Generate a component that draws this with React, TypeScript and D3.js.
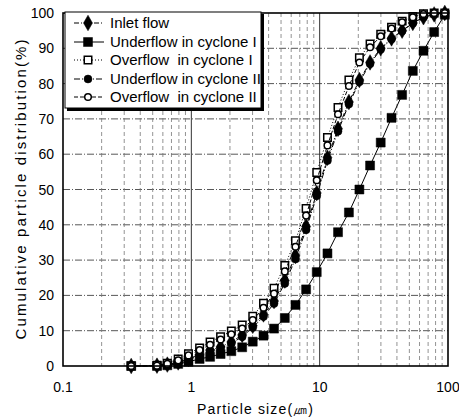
import * as d3 from 'd3'

// particle sizes (µm) shared by every series
const sizes = [0.34, 0.54, 0.65, 0.79, 0.95, 1.16, 1.40, 1.69, 2.05, 2.49, 3.01, 3.65, 4.41, 5.35, 6.48,
  7.84, 9.49, 11.5, 13.9, 16.9, 20.4, 24.7, 29.9, 36.3, 43.9, 53.2, 64.4, 78.0, 94.4]

const inletFlow = [0, 0.1, 0.4, 1.0, 2.0, 3.3, 4.5, 5.4, 6.8, 8.8, 11.4, 14.6, 18.4, 24.2, 31.2, 39.5,
  49.0, 59.0, 67.2, 74.8, 81.0, 86.0, 90.0, 92.8, 95.0, 97.2, 98.8, 99.6, 100]
const underflow1 = [0, 0, 0.2, 0.6, 1.2, 2.0, 2.6, 3.4, 4.2, 5.3, 6.9, 8.6, 10.6, 13.6, 17.3, 21.7,
  26.6, 31.9, 37.9, 43.5, 50.0, 56.8, 63.3, 70.3, 76.8, 83.6, 89.3, 94.6, 99.5]
const overflow1 = [0, 0.2, 0.8, 2.0, 3.5, 5.1, 6.8, 8.3, 9.9, 11.6, 14.1, 17.8, 22.0, 28.5, 35.5, 44.6,
  54.8, 64.7, 73.2, 81.0, 87.3, 91.2, 94.0, 96.0, 97.7, 99.0, 99.8, 100, 100]
const underflow2 = [0, 0, 0.3, 0.9, 1.8, 3.0, 4.2, 5.1, 6.4, 8.3, 10.9, 14.0, 17.7, 23.4, 30.3, 38.6,
  48.2, 58.2, 66.5, 74.2, 80.5, 85.6, 89.7, 92.6, 94.9, 97.1, 98.8, 99.6, 100]
const overflow2 = [0, 0.1, 0.6, 1.6, 3.0, 4.5, 6.0, 7.5, 9.0, 10.6, 13.0, 16.5, 20.5, 26.8, 33.8, 42.6,
  52.6, 62.5, 71.3, 79.3, 86.0, 90.3, 93.4, 95.6, 97.4, 98.8, 99.7, 100, 100]

const seriesNames = ['Inlet flow', 'Underflow in cyclone I', 'Overflow  in cyclone I',
  'Underflow in cyclone II', 'Overflow  in cyclone II']

const xTicks = [0.1, 1, 10, 100]
const yTicks = [0, 10, 20, 30, 40, 50, 60, 70, 80, 90, 100]

const W = 459
const H = 420
const left = 63, right = 448, top = 13, bottom = 366

export default function App() {
  const x = d3.scaleLog().domain([0.1, 100]).range([left, right])
  const y = d3.scaleLinear().domain([0, 100]).range([bottom, top])

  const styles = [
    { values: inletFlow, shape: d3.symbolDiamond, size: 70, fill: '#000', dash: '5,2,1,2' },
    { values: underflow1, shape: d3.symbolSquare, size: 81, fill: '#000', dash: '' },
    { values: overflow1, shape: d3.symbolSquare, size: 56, fill: '#fff', dash: '1,2' },
    { values: underflow2, shape: d3.symbolCircle, size: 50, fill: '#000', dash: '6,2,1,2' },
    { values: overflow2, shape: d3.symbolCircle, size: 34, fill: '#fff', dash: '4,2' },
  ]
  // underflow II sits under the inlet diamonds, so draw it first
  const drawOrder = [3, 0, 1, 2, 4]
  const line = d3.line<number>().x((_, i) => x(sizes[i])).y(d => y(d))

  const minor: number[] = []
  for (const dec of [0.1, 1, 10]) for (let m = 2; m <= 9; m++) minor.push(dec * m)

  const font = 'Arial, "Liberation Sans", sans-serif'
  const legendY = [23, 42, 60, 79, 97]

  return (
    <svg width={W} height={H} style={{ position: 'absolute', left: 0, top: 0, background: '#fff' }}
      fontFamily={font}>
      <defs>
        <clipPath id="legendClip">
          <rect x={65} y={12} width={196} height={96} />
        </clipPath>
      </defs>
      {/* grid */}
      {yTicks.slice(1, -1).map(t => (
        <line key={'h' + t} x1={left} x2={right} y1={y(t)} y2={y(t)} stroke="#444"
          strokeWidth={0.9} strokeDasharray="7,2,1,2" />
      ))}
      {minor.map(t => (
        <line key={'v' + t} x1={x(t)} x2={x(t)} y1={top} y2={bottom} stroke="#777"
          strokeWidth={0.8} strokeDasharray="4,3" />
      ))}
      {[1, 10].map(t => (
        <line key={'m' + t} x1={x(t)} x2={x(t)} y1={top} y2={bottom} stroke="#333" strokeWidth={1} />
      ))}

      {/* series */}
      {drawOrder.map(si => {
        const s = styles[si]
        return (
          <g key={si}>
            <path d={line(s.values) ?? ''} fill="none" stroke="#000" strokeWidth={1}
              strokeDasharray={s.dash || undefined} />
            {s.values.map((v, i) => (
              <path key={i} transform={`translate(${x(sizes[i])},${y(v)})`}
                d={d3.symbol(s.shape, s.size)() ?? ''} fill={s.fill} stroke="#000"
                strokeWidth={s.fill === '#fff' ? 1.5 : 0.5} />
            ))}
          </g>
        )
      })}

      {/* frame */}
      <rect x={left} y={top} width={right - left} height={bottom - top} fill="none" stroke="#000" strokeWidth={1.6} />

      {/* legend */}
      <rect x={67} y={14} width={197} height={97} fill="#000" />
      <rect x={65} y={12} width={196} height={96} fill="#fff" stroke="#000" strokeWidth={1} />
      <g clipPath="url(#legendClip)">
        {styles.map((s, i) => (
          <g key={'lg' + i}>
            <line x1={74} x2={104} y1={legendY[i]} y2={legendY[i]} stroke="#000" strokeWidth={1}
              strokeDasharray={s.dash || undefined} />
            <path transform={`translate(88,${legendY[i]})`} d={d3.symbol(s.shape, s.size)() ?? ''}
              fill={s.fill} stroke="#000" strokeWidth={s.fill === '#fff' ? 1.5 : 0.5} />
            <text x={110} y={legendY[i] + 5} fontSize={15} style={{ whiteSpace: 'pre' }}>{seriesNames[i]}</text>
          </g>
        ))}
      </g>

      {/* y axis ticks */}
      {yTicks.map(t => (
        <text key={'yl' + t} x={54} y={y(t) + 5} fontSize={14} textAnchor="end">{t}</text>
      ))}
      {/* x axis ticks */}
      {xTicks.map(t => (
        <text key={'xl' + t} x={x(t)} y={392} fontSize={14} textAnchor="middle">{t}</text>
      ))}

      <text x={255} y={414} fontSize={14} textAnchor="middle" textLength={116} lengthAdjust="spacing">
        Particle size(㎛)
      </text>
      <text transform={`translate(26,${(top + bottom) / 2}) rotate(-90)`} fontSize={15} textAnchor="middle"
        textLength={300} lengthAdjust="spacing">
        Cumulative particle distribution(%)
      </text>
    </svg>
  )
}
